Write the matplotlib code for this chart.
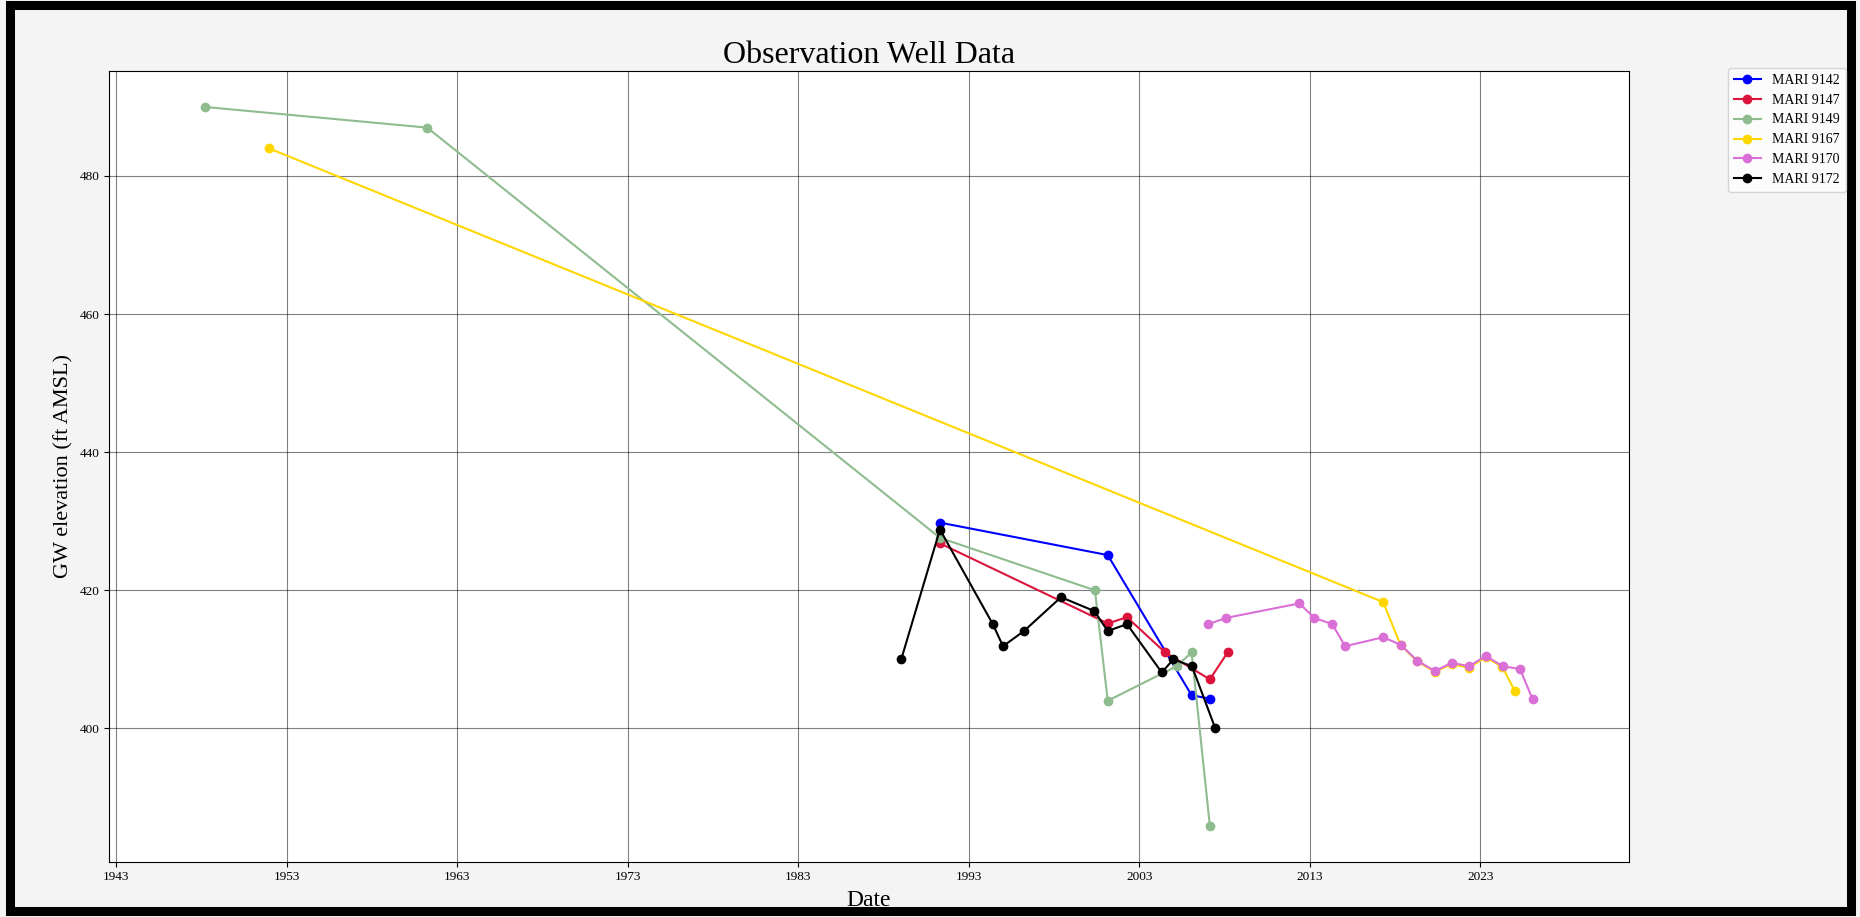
import datetime as dt
import matplotlib
matplotlib.use("Agg")
import matplotlib.pyplot as plt
import matplotlib.dates as mdates
from matplotlib.patches import Rectangle

plt.rcParams['font.family'] = 'serif'
plt.rcParams['font.serif'] = ['Liberation Serif', 'DejaVu Serif']

# decimal years, GW elevation in ft AMSL
well_names = ["MARI 9142", "MARI 9147", "MARI 9149", "MARI 9167", "MARI 9170", "MARI 9172"]
well_colors = ["blue", "crimson", "darkseagreen", "gold", "orchid", "black"]

yr_9142 = [1991.31, 2001.15, 2006.07, 2007.14]
gw_9142 = [429.8, 425.1, 404.8, 404.3]

yr_9147 = [1991.31, 2001.15, 2002.28, 2004.52, 2007.14, 2008.18]
gw_9147 = [426.8, 415.2, 416.1, 411.0, 407.1, 411.0]

yr_9149 = [1948.19, 1961.24, 1991.31, 2000.40, 2001.15, 2005.19, 2006.07, 2007.14]
gw_9149 = [490.0, 487.0, 427.6, 420.0, 404.0, 409.0, 411.0, 385.9]

yr_9167 = [1951.96, 2017.30, 2018.32, 2019.30, 2020.33, 2021.31, 2022.33, 2023.32, 2024.30, 2025.02]
gw_9167 = [484.0, 418.3, 412.1, 409.7, 408.2, 409.3, 408.8, 410.3, 408.9, 405.4]

yr_9170 = [2007.05, 2008.09, 2012.39, 2013.27, 2014.32, 2015.07, 2017.31, 2018.33, 2019.31,
           2020.34, 2021.32, 2022.34, 2023.33, 2024.31, 2025.33, 2026.07]
gw_9170 = [415.1, 416.0, 418.1, 416.0, 415.1, 411.9, 413.2, 412.1, 409.8,
           408.3, 409.5, 409.0, 410.5, 409.0, 408.6, 404.2]

yr_9172 = [1989.04, 1991.31, 1994.41, 1995.01, 1996.24, 1998.41, 2000.36, 2001.15, 2002.28,
           2004.32, 2005.00, 2006.09, 2007.46]
gw_9172 = [410.0, 428.8, 415.1, 411.9, 414.1, 419.0, 417.0, 414.1, 415.1,
           408.1, 410.0, 409.0, 400.0]

tick_years = [1943, 1953, 1963, 1973, 1983, 1993, 2003, 2013, 2023]

well_years = [yr_9142, yr_9147, yr_9149, yr_9167, yr_9170, yr_9172]
well_levels = [gw_9142, gw_9147, gw_9149, gw_9167, gw_9170, gw_9172]


def to_date(y):
    year = int(y)
    return dt.datetime(year, 1, 1) + dt.timedelta(days=(y - year) * 365.25)


fig = plt.figure(figsize=(18.6, 9.17), dpi=100, facecolor='#f4f4f4')
ax = fig.add_axes([0.0586, 0.0603, 0.8172, 0.8623])
ax.set_facecolor('white')

for name, color, yrs, lvls in zip(well_names, well_colors, well_years, well_levels):
    ax.plot([to_date(y) for y in yrs], lvls, marker='o', color=color, label=name)

ax.set_xlim(to_date(1942.58), to_date(2031.72))
ax.set_xticks([dt.datetime(y, 1, 1) for y in tick_years])
ax.xaxis.set_major_formatter(mdates.DateFormatter('%Y'))
ax.tick_params(labelsize=9.5)
ax.grid(True, color='black', alpha=0.5, linewidth=0.8)

ax.set_title("Observation Well Data", fontsize=23)
ax.set_xlabel("Date", fontsize=17, labelpad=5)
ax.set_ylabel("GW elevation (ft AMSL)", fontsize=16)

fig.legend(loc='upper left', bbox_to_anchor=(1728 / 1860, 1 - 68 / 917), borderaxespad=0, fontsize=10)

# thick black frame round the whole picture
fig.add_artist(Rectangle((9.5 / 1860, 6 / 917), 1841.5 / 1860, 906 / 917, transform=fig.transFigure,
                         fill=False, edgecolor='black', linewidth=6.5))

fig.savefig("out.png", dpi=100, facecolor=fig.get_facecolor())
